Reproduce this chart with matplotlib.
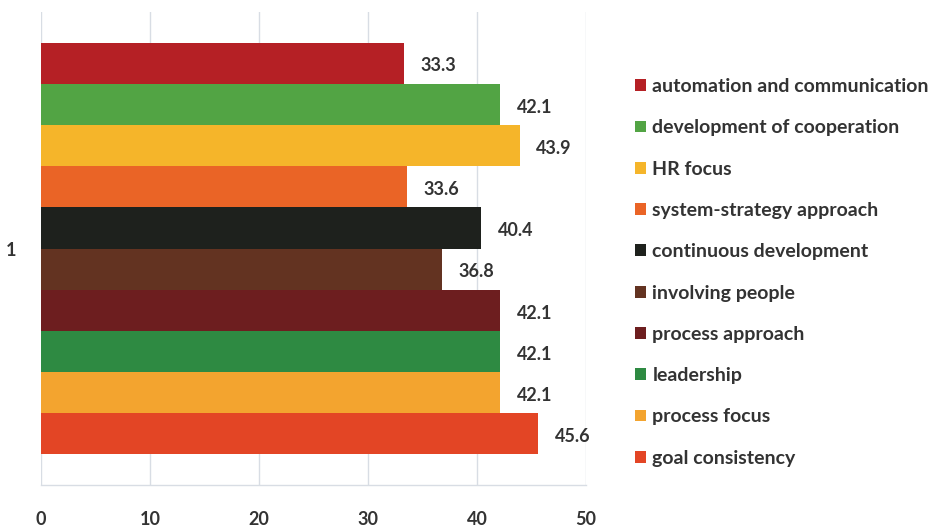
import matplotlib
matplotlib.use("Agg")
import matplotlib.pyplot as plt
from matplotlib.patches import Patch

plt.rcParams["font.family"] = ["Lato", "DejaVu Sans"]
plt.rcParams["font.weight"] = "bold"

categories = ["1"]
series = [
    "automation and communication",
    "development of cooperation",
    "HR focus",
    "system-strategy approach",
    "continuous development",
    "involving people",
    "process approach",
    "leadership",
    "process focus",
    "goal consistency",
]
values = [33.3, 42.1, 43.9, 33.6, 40.4, 36.8, 42.1, 42.1, 42.1, 45.6]
colors = [
    "#b52025", "#52a444", "#f5b52a", "#ea6426", "#1e211d",
    "#633321", "#6d1e1f", "#2e8a42", "#f3a42f", "#e34525",
]
x_ticks = [0, 10, 20, 30, 40, 50]

text_color = "#333333"
grid_color = "#d8dde4"

fig = plt.figure(figsize=(9.37, 5.32), dpi=100)
ax = fig.add_axes([41 / 937, 1 - 485 / 532, 545 / 937, 473 / 532])

n = len(series)
group = 0.871
h = group / n
for i, (name, v, c) in enumerate(zip(series, values, colors)):
    y = (n / 2 - i - 0.5) * h
    ax.barh(y, v, height=h, color=c, label=name, zorder=3)
    ax.annotate(f"{v:.1f}", xy=(v, y), xytext=(12, -2), textcoords="offset points",
                ha="left", va="center", fontsize=13, fontweight="bold",
                color=text_color)

ax.set_xlim(0, 50)
ax.set_ylim(-0.5, 0.5)
ax.set_xticks(x_ticks)
ax.set_xticklabels([str(t) for t in x_ticks])
ax.set_yticks([0])
ax.set_yticklabels(categories)
ax.tick_params(axis="x", length=0, pad=19, labelsize=13, labelcolor=text_color)
ax.tick_params(axis="y", length=0, pad=18, labelsize=13, labelcolor=text_color)
ax.xaxis.grid(True, color=grid_color, linewidth=1.0, zorder=0)
for side in ["top", "left", "right"]:
    ax.spines[side].set_visible(False)
ax.spines["bottom"].set_color(grid_color)
ax.spines["bottom"].set_linewidth(1.0)

handles = [Patch(facecolor=c, edgecolor="none") for c in colors]
leg = fig.legend(handles, series, loc="upper left",
                 bbox_to_anchor=(635 / 937, 1 - 78 / 532),
                 frameon=False, fontsize=14, handlelength=0.55, handleheight=0.55,
                 handletextpad=0.35, labelspacing=1.25, borderpad=0, borderaxespad=0)
for t in leg.get_texts():
    t.set_color(text_color)
    t.set_fontweight("bold")

fig.savefig("out.png", dpi=100)
